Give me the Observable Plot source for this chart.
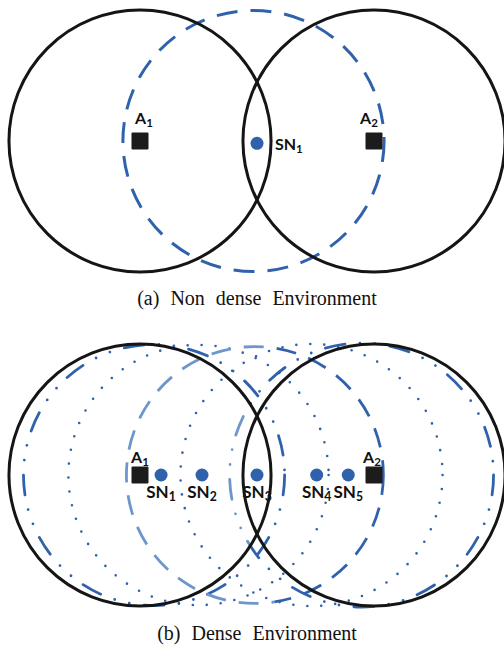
<!DOCTYPE html>
<html><head><meta charset="utf-8">
<script src="https://cdn.jsdelivr.net/npm/d3@7"></script>
<script src="https://cdn.jsdelivr.net/npm/@observablehq/plot@0.6"></script>
<style>
html,body{margin:0;padding:0;background:#fff;}
#chart{width:504px;}
#chart svg{display:block;}
</style></head><body><div id="chart"></div>
<script>
// Units: anchor A1 at x = 0, anchor A2 at x = 100, y = 0 is the line through the nodes
const anchorNames = ["A1", "A2"];
const anchorX = [0, 100];
const anchorRange = 56;

// (a) Non dense environment
const sensorsA = ["SN1"];
const sensorAX = [50];
const sensorAY = [-1];
const rangeAX = [48.5];
const rangeAR = [55.8];

// (b) Dense environment
const sensorsB = ["SN1", "SN2", "SN3", "SN4", "SN5"];
const sensorBX = [9, 26.5, 50, 75.5, 89];
const rangeBX = [6, 25, 49.1, 73.3, 94.7];
const rangeBR = [55.8, 55.6, 54.9, 56, 56.4];

const captions = ["(a) Non dense Environment", "(b) Dense Environment"];

// ---- build tables ----
const anchors = anchorNames.map((name, i) => ({name, x: anchorX[i], y: 0, r: anchorRange}));
const nodesA = sensorsA.map((name, i) => ({name, x: sensorAX[i], y: sensorAY[i]}));
const rangesA = sensorsA.map((name, i) => ({name, x: rangeAX[i], y: 0, r: rangeAR[i]}));
const nodesB = sensorsB.map((name, i) => ({name, x: sensorBX[i], y: 0}));
const rangesB = sensorsB.map((name, i) => ({name, x: rangeBX[i], y: 0, r: rangeBR[i]}));

const W = 504, K = 2.34, X0 = 139.5;
const blue = "#2f62ab", lightBlue = "#6e96cc", ink = "#151515", sq = "#1c1c1c";
const label = {fontFamily: "Lato", fontWeight: "bold", fill: "#111", lineAnchor: "bottom"};
const mid = d3.mean(anchorX);

function build(h, cy, marks) {
  return Plot.plot({
    width: W, height: h, margin: 0,
    x: {domain: [-X0 / K, (W - X0) / K], range: [0, W], axis: null},
    y: {domain: [-(h - cy) / K, cy / K], range: [h, 0], axis: null},
    r: {type: "linear", domain: [0, 100], range: [0, 100 * K]},
    style: {background: "white", overflow: "visible"},
    marks
  });
}

function anchorMarks(dyLab, dx1, dx2, fs) {
  return [
    Plot.dot(anchors, {x: "x", y: "y", r: "r", stroke: ink, strokeWidth: 3, fill: "none"}),
    Plot.dot(anchors, {x: "x", y: "y", symbol: "square", r: 8.46, fill: sq, stroke: sq, strokeWidth: 2, strokeLinejoin: "round"}),
    Plot.text(anchors.filter(d => d.name === "A1"), {x: "x", y: "y", text: "name", dx: dx1, dy: dyLab, textAnchor: "middle", fontSize: fs, ...label}),
    Plot.text(anchors.filter(d => d.name === "A2"), {x: "x", y: "y", text: "name", dx: dx2, dy: dyLab, textAnchor: "middle", fontSize: fs, ...label})
  ];
}

const plotA = build(320, 140.5, [
  Plot.dot(rangesA, {x: "x", y: "y", r: "r", stroke: blue, strokeWidth: 3, strokeDasharray: "21 13", fill: "none"}),
  Plot.dot(nodesA, {x: "x", y: "y", r: 6.5, fill: blue}),
  Plot.text(nodesA, {x: "x", y: "y", text: "name", dx: 18, dy: 6.5, textAnchor: "start", fontSize: 16, ...label}),
  ...anchorMarks(-17.5, 4, -5, 16),
  Plot.text([captions[0]], {x: mid, frameAnchor: "bottom", text: d => d, dy: -16, lineAnchor: "bottom", fontFamily: "Liberation Serif", fontSize: 20, fill: "#111"})
]);

const dotted = {strokeDasharray: "0 14", strokeLinecap: "round", strokeWidth: 2.6, fill: "none", stroke: blue};
const dashDotDot = {strokeDasharray: "20 15 0 15 0 15", strokeLinecap: "round", strokeWidth: 2.8, fill: "none"};

const plotB = build(328, 154.5, [
  Plot.dot(rangesB.filter(d => d.name === "SN2" || d.name === "SN4"), {x: "x", y: "y", r: "r", ...dotted}),
  Plot.dot(rangesB.filter(d => d.name === "SN1"), {x: "x", y: "y", r: "r", stroke: blue, ...dashDotDot}),
  Plot.dot(rangesB.filter(d => d.name === "SN5"), {x: "x", y: "y", r: "r", stroke: "url(#gradSN5)", ...dashDotDot}),
  Plot.dot(rangesB.filter(d => d.name === "SN3"), {x: "x", y: "y", r: "r", stroke: "url(#gradSN3)", strokeWidth: 2.8, strokeDasharray: "20 13", fill: "none"}),
  Plot.dot(nodesB, {x: "x", y: "y", r: 6.5, fill: blue}),
  Plot.text(nodesB, {x: "x", y: "y", text: "name", dy: 22.5, textAnchor: "middle", fontSize: 17, ...label}),
  ...anchorMarks(-12.5, 0, -2, 16),
  Plot.text([captions[1]], {x: mid, frameAnchor: "bottom", text: d => d, dy: -9, lineAnchor: "bottom", fontFamily: "Liberation Serif", fontSize: 20, fill: "#111"})
]);

// gradient defs (left part of some range circles is drawn lighter)
function addGrad(svg, id, stop) {
  const ns = "http://www.w3.org/2000/svg";
  const defs = document.createElementNS(ns, "defs");
  const g = document.createElementNS(ns, "linearGradient");
  g.setAttribute("id", id);
  g.setAttribute("x1", "0"); g.setAttribute("x2", "1"); g.setAttribute("y1", "0"); g.setAttribute("y2", "0");
  [[0, lightBlue], [stop, lightBlue], [stop, blue], [1, blue]].forEach(([o, c]) => {
    const s = document.createElementNS(ns, "stop");
    s.setAttribute("offset", o); s.setAttribute("stop-color", c);
    g.appendChild(s);
  });
  defs.appendChild(g);
  svg.insertBefore(defs, svg.firstChild);
}
addGrad(plotB, "gradSN3", 0.58);
addGrad(plotB, "gradSN5", 0.08);

// subscripts and caption font
[plotA, plotB].forEach(svg => {
  d3.select(svg).selectAll("text").each(function() {
    const t = this.textContent;
    const m = t.match(/^([A-Z]+)(\d)$/);
    if (m) {
      this.textContent = m[1];
      d3.select(this).append("tspan").attr("font-size", "0.72em").attr("dy", "0.28em").text(m[2]);
    } else if (t.startsWith("(")) {
      this.style.fontFamily = "'Liberation Serif', 'Times New Roman', serif";
      this.style.wordSpacing = "6px";
    }
  });
});

document.getElementById("chart").append(plotA, plotB);
</script>
</body></html>
